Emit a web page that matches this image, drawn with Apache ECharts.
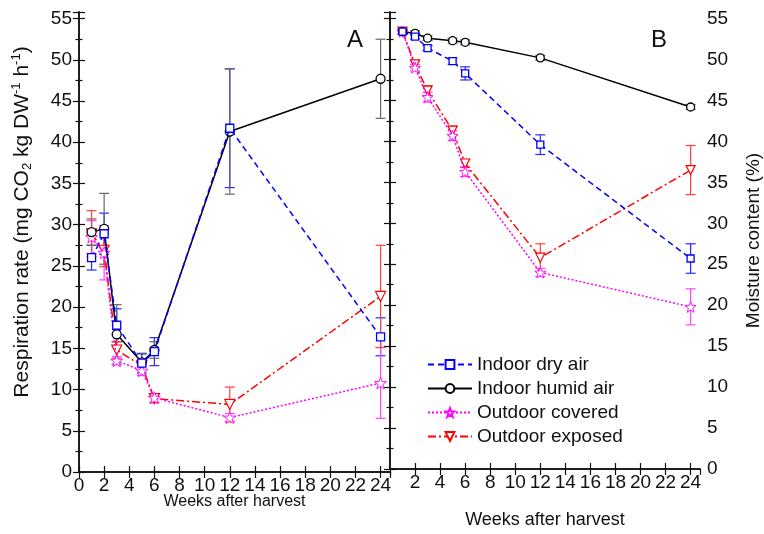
<!DOCTYPE html>
<html>
<head>
<meta charset="utf-8">
<script src="https://cdn.jsdelivr.net/npm/echarts@6/dist/echarts.min.js"></script>
<style>html,body{margin:0;padding:0;background:#fff}#c{width:764px;height:534px}</style>
</head>
<body>
<div id="c"></div>
<script>
// ---- data ----
const weeks = [1, 2, 3, 5, 6, 12, 24];
const seriesNames = ['Indoor dry air', 'Indoor humid air', 'Outdoor covered', 'Outdoor exposed'];
const xTicks = [0, 2, 4, 6, 8, 10, 12, 14, 16, 18, 20, 22, 24];
const yTicks = [0, 5, 10, 15, 20, 25, 30, 35, 40, 45, 50, 55];

// Panel A: respiration rate
const respDry = [26.0, 28.9, 17.8, 13.2, 14.6, 41.7, 16.4];
const respDryErr = [1.5, 2.5, 2.0, 1.2, 1.7, 7.2, 2.3];
const respHumid = [29.1, 29.5, 16.7, 13.3, 14.8, 41.3, 47.7];
const respHumidErr = [1.6, 4.3, 3.6, 1.0, 1.0, 7.6, 4.8];
const respCovered = [28.5, 26.6, 13.5, 12.3, 9.0, 6.6, 10.8];
const respCoveredErr = [2.0, 3.3, 0.5, 0.6, 0.5, 0.5, 4.3];
const respExposed = [28.9, 26.9, 14.8, 12.9, 8.9, 8.2, 21.3];
const respExposedErr = [2.8, 2.0, 1.0, 0.6, 0.5, 2.1, 6.2];

// Panel B: moisture content
const moistDry = [53.4, 52.8, 51.4, 49.8, 48.3, 39.6, 25.7];
const moistDryErr = [0.3, 0.3, 0.3, 0.4, 0.8, 1.2, 1.8];
const moistHumid = [53.4, 53.2, 52.6, 52.3, 52.1, 50.2, 44.2];
const moistHumidErr = [0.3, 0.3, 0.3, 0.3, 0.3, 0.3, 0.3];
const moistCovered = [53.4, 49.0, 45.4, 40.7, 36.3, 24.0, 19.8];
const moistCoveredErr = [0.3, 0.4, 0.6, 0.6, 0.6, 0.5, 2.2];
const moistExposed = [53.4, 49.4, 46.2, 41.3, 37.3, 25.8, 36.5];
const moistExposedErr = [0.3, 0.4, 0.6, 0.6, 0.5, 1.7, 3.0];

// ---- styles ----
const FONT = "'Liberation Sans', Arial, Helvetica, sans-serif";
const STAR = 'path://M0,-10 L2.35,-3.24 L9.51,-3.09 L3.80,1.24 L5.88,8.09 L0,4 L-5.88,8.09 L-3.80,1.24 L-9.51,-3.09 L-2.35,-3.24 Z';
const styles = [
  { color: '#0000ff', err: '#2a2aff', symbol: 'rect', rotate: 0, size: 8, bw: 1.3, dash: [6, 4] },
  { color: '#000000', err: '#666666', symbol: 'circle', rotate: 0, size: 9, bw: 1.3, dash: 'solid' },
  { color: '#ff00ff', err: '#ff44ff', symbol: STAR, rotate: 0, size: 12, bw: 0.9, dash: [2, 2] },
  { color: '#ff0000', err: '#ff4040', symbol: 'triangle', rotate: 180, size: 10, bw: 1.2, dash: [8, 3, 2, 3] }
];
const respVals = [respDry, respHumid, respCovered, respExposed];
const respErrs = [respDryErr, respHumidErr, respCoveredErr, respExposedErr];
const moistVals = [moistDry, moistHumid, moistCovered, moistExposed];
const moistErrs = [moistDryErr, moistHumidErr, moistCoveredErr, moistExposedErr];

const XMAX = 24.75, YMAX = 55.8;
const axisLine = { show: true, lineStyle: { color: '#111', width: 1.5 } };
const tickStyle = { lineStyle: { color: '#111', width: 1.2 } };
const labelFmt = v => (xTicks.includes(v) || yTicks.includes(v)) ? String(v) : '';

function xAxis(grid, pos, showLabels, extra) {
  return Object.assign({
    type: 'value', gridIndex: grid, position: pos, min: 0, max: XMAX, interval: 2,
    axisLine: axisLine, splitLine: { show: false }, nameMoveOverlap: false,
    axisTick: Object.assign({ show: true, inside: true, length: 6 }, tickStyle),
    axisLabel: { show: showLabels, fontFamily: FONT, fontSize: 19, color: '#111', margin: 4,
      showMaxLabel: false, formatter: labelFmt }
  }, extra || {});
}
function yAxis(grid, pos, showLabels, extra) {
  return Object.assign({
    type: 'value', gridIndex: grid, position: pos, min: 0, max: YMAX, interval: 5,
    axisLine: axisLine, splitLine: { show: false }, nameMoveOverlap: false,
    axisTick: Object.assign({ show: true, inside: true, length: 6 }, tickStyle),
    minorTick: Object.assign({ show: true, splitNumber: 2, length: 3.5 }, tickStyle),
    axisLabel: { show: showLabels, fontFamily: FONT, fontSize: 19, color: '#111', margin: 7,
      showMaxLabel: false, formatter: labelFmt }
  }, extra || {});
}

function errRender(color) {
  return function (params, api) {
    const x = api.value(0), y = api.value(1), e = api.value(2);
    const t = api.coord([x, y + e]), b = api.coord([x, y - e]);
    const w = 5;
    const st = { stroke: color, lineWidth: 1.2 };
    return { type: 'group', children: [
      { type: 'line', shape: { x1: t[0], y1: t[1], x2: b[0], y2: b[1] }, style: st },
      { type: 'line', shape: { x1: t[0] - w, y1: t[1], x2: t[0] + w, y2: t[1] }, style: st },
      { type: 'line', shape: { x1: b[0] - w, y1: b[1], x2: b[0] + w, y2: b[1] }, style: st }
    ] };
  };
}

const series = [];
[[respVals, respErrs, 0], [moistVals, moistErrs, 1]].forEach(([vals, errs, g]) => {
  vals.forEach((v, i) => {
    const s = styles[i];
    series.push({
      type: 'custom', name: 'err' + g + i, xAxisIndex: g * 2, yAxisIndex: g * 2,
      renderItem: errRender(s.err), encode: { x: 0, y: 1 }, z: 1, silent: true,
      data: weeks.map((w, k) => [w, v[k], errs[i][k]])
    });
  });
  vals.forEach((v, i) => {
    const s = styles[i];
    series.push({
      type: 'line', name: seriesNames[i], xAxisIndex: g * 2, yAxisIndex: g * 2, z: 3 + (3 - i),
      data: weeks.map((w, k) => [w, v[k]]),
      symbol: s.symbol, symbolRotate: s.rotate, symbolSize: g === 0 ? s.size : s.size - 1,
      showAllSymbol: true,
      lineStyle: { color: s.color, width: 1.5, type: s.dash },
      itemStyle: { color: '#ffffff', borderColor: s.color, borderWidth: s.bw }
    });
  });
});

const chart = echarts.init(document.getElementById('c'), null, { renderer: 'canvas' });
chart.setOption({
  animation: false,
  backgroundColor: '#ffffff',
  textStyle: { fontFamily: FONT },
  grid: [
    { left: 79, top: 12, width: 311, height: 460 },
    { left: 390, top: 12, width: 311, height: 460 }
  ],
  xAxis: [
    xAxis(0, 'bottom', true, { name: 'Weeks after harvest', nameLocation: 'middle', nameGap: 22,
      nameTextStyle: { fontFamily: FONT, fontSize: 16, color: '#111', verticalAlign: 'top' } }),
    xAxis(0, 'top', false),
    xAxis(1, 'bottom', true, { name: 'Weeks after harvest', nameLocation: 'middle', nameGap: 42,
      nameTextStyle: { fontFamily: FONT, fontSize: 18, color: '#111', verticalAlign: 'top' },
      axisLabel: { show: true, fontFamily: FONT, fontSize: 19, color: '#111', margin: 4,
        showMaxLabel: false, showMinLabel: false, formatter: labelFmt } }),
    xAxis(1, 'top', false)
  ],
  yAxis: [
    yAxis(0, 'left', true, {
      name: '{a|Respiration rate (mg CO}{sub|2}{a| kg DW}{sup|-1}{a| h}{sup|-1}{a|)}',
      nameLocation: 'middle', nameGap: 45,
      nameTextStyle: { color: '#111', padding: [0, 0, 0, 40], rich: {
        a: { fontFamily: FONT, fontSize: 21, color: '#111', lineHeight: 24 },
        sub: { fontFamily: FONT, fontSize: 13, color: '#111', lineHeight: 12, verticalAlign: 'bottom' },
        sup: { fontFamily: FONT, fontSize: 13, color: '#111', lineHeight: 12, verticalAlign: 'top' }
      } }
    }),
    yAxis(0, 'right', false),
    yAxis(1, 'right', true, { name: 'Moisture content (%)', nameLocation: 'middle', nameGap: 44,
      nameTextStyle: { fontFamily: FONT, fontSize: 19, color: '#111' } }),
    yAxis(1, 'left', false)
  ],
  legend: {
    data: seriesNames, orient: 'vertical', left: 422, top: 350, itemWidth: 44, itemHeight: 11,
    itemGap: 5, textStyle: { fontFamily: FONT, fontSize: 19, color: '#111' }, selectedMode: false
  },
  graphic: [
    { type: 'text', left: 347, top: 28, style: { text: 'A', font: '24px ' + FONT, fill: '#111' } },
    { type: 'text', left: 651, top: 28, style: { text: 'B', font: '24px ' + FONT, fill: '#111' } }
  ],
  series: series
});
</script>
</body>
</html>
